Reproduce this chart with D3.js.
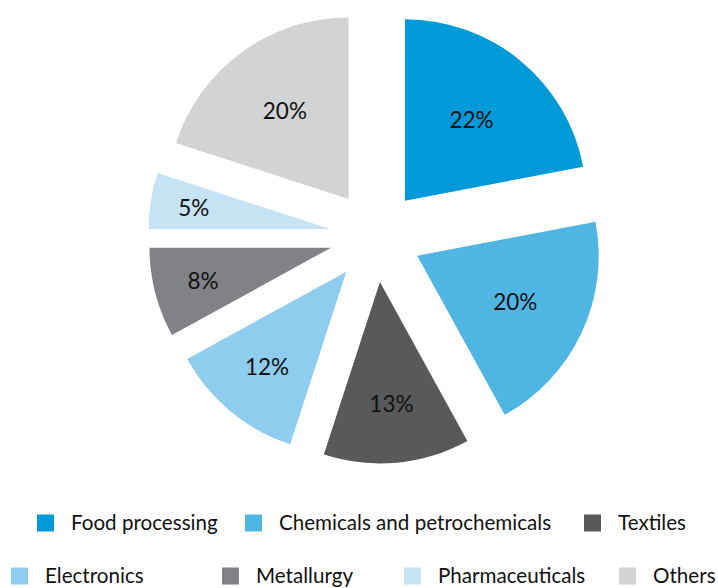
<!DOCTYPE html>
<html>
<head>
<meta charset="utf-8">
<script src="https://cdn.jsdelivr.net/npm/d3@7"></script>
<style>
  html, body { margin: 0; padding: 0; background: #ffffff; }
  svg { display: block; }
  text { font-family: Lato, "Open Sans", sans-serif; fill: #111111; }
</style>
</head>
<body>
<svg id="chart" width="718" height="588"></svg>
<script>
// Industry shares, in percent
const categories = [
  "Food processing",
  "Chemicals and petrochemicals",
  "Textiles",
  "Electronics",
  "Metallurgy",
  "Pharmaceuticals",
  "Others"
];
const shares = [22, 20, 13, 12, 8, 5, 20];
const colors = ["#009ad8", "#4fb6e4", "#58595b", "#8fcdee", "#808285", "#c6e3f5", "#d1d3d4"];

// Legend rows: which categories sit in each row, and where each entry starts
const legendRows = [[0, 1, 2], [3, 4, 5, 6]];
const legendX = [[37, 245, 584], [11, 222, 404, 619]];
const legendY = [523, 576];

const width = 718, height = 588;
const cx = 375.6, cy = 236.2;   // pie centre before explosion
const radius = 181.5;
const explode = 46;             // distance each slice is pulled out

const svg = d3.select("#chart");

const pie = d3.pie().sort(null).value(d => d)
  .startAngle(0).endAngle(2 * Math.PI);
const arcs = pie(shares);
const arc = d3.arc().innerRadius(0).outerRadius(radius);

const slices = svg.append("g").selectAll("g")
  .data(arcs)
  .join("g")
  .attr("transform", d => {
    const mid = (d.startAngle + d.endAngle) / 2;
    return `translate(${cx + Math.sin(mid) * explode},${cy - Math.cos(mid) * explode})`;
  });

slices.append("path")
  .attr("d", arc)
  .attr("fill", (d, i) => colors[i]);

// Percentage labels: narrower slices get their label pushed further out
slices.append("text")
  .attr("transform", d => {
    const mid = (d.startAngle + d.endAngle) / 2;
    const halfDeg = (d.endAngle - d.startAngle) / 2 * 180 / Math.PI;
    const dist = 148 - 1.1 * halfDeg;
    return `translate(${Math.sin(mid) * dist},${-Math.cos(mid) * dist})`;
  })
  .attr("text-anchor", "middle")
  .attr("dy", "0.36em")
  .style("font-size", "22.5px")
  .text(d => d.value + "%");

// Legend
const legend = svg.append("g");
legendRows.forEach((row, r) => {
  row.forEach((ci, k) => {
    const item = legend.append("g")
      .attr("transform", `translate(${legendX[r][k]},${legendY[r]})`);
    item.append("rect")
      .attr("x", 0).attr("y", -8.5)
      .attr("width", 17).attr("height", 17)
      .attr("fill", colors[ci]);
    item.append("text")
      .attr("x", 34).attr("dy", "0.36em")
      .style("font-size", "20.6px")
      .text(categories[ci]);
  });
});
</script>
</body>
</html>
